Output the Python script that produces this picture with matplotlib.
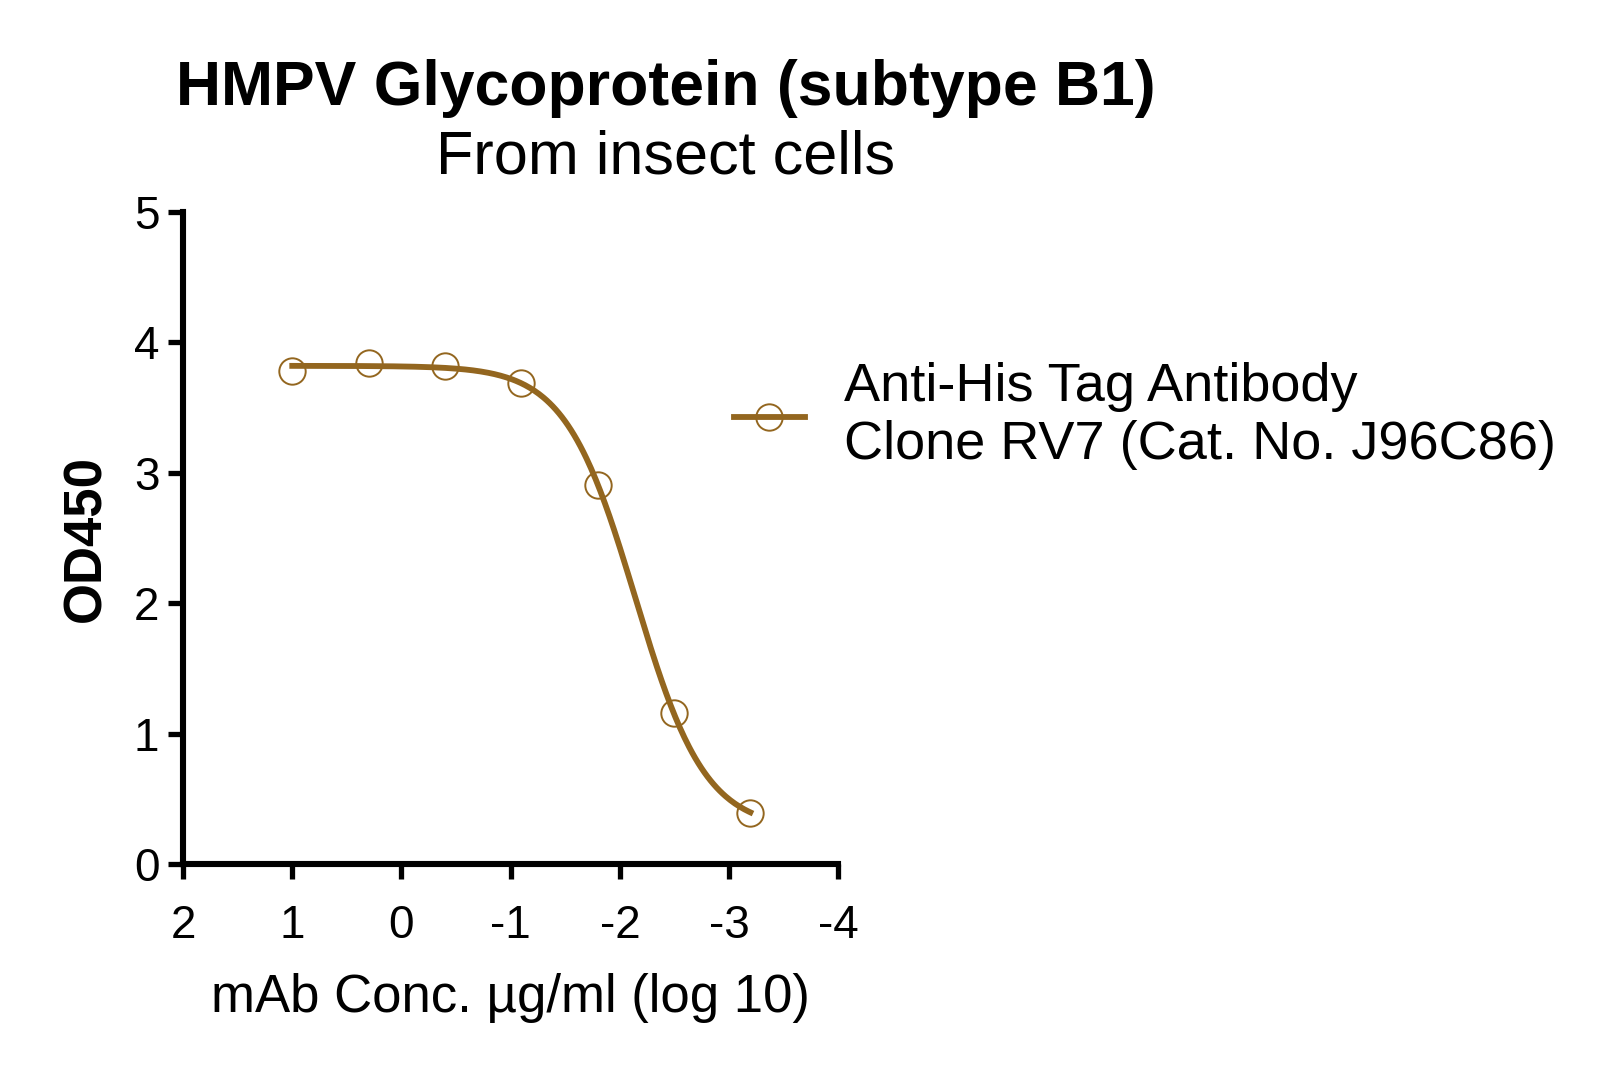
import matplotlib
matplotlib.use("Agg")
import matplotlib.pyplot as plt
import numpy as np

# datos
log_conc = [1.0, 0.301, -0.398, -1.097, -1.796, -2.495, -3.194]
od450 = [3.78, 3.84, 3.82, 3.69, 2.91, 1.16, 0.39]
serie = "Anti-His Tag Antibody\nClone RV7 (Cat. No. J96C86)"
xticks = [2, 1, 0, -1, -2, -3, -4]
yticks = [0, 1, 2, 3, 4, 5]

color = "#93661F"
plt.rcParams["font.family"] = ["Liberation Sans", "DejaVu Sans"]

x = np.array(log_conc)
y = np.array(od450)


# ajuste 4PL sencillo: busqueda en rejilla de logEC50 y pendiente,
# top/bottom por minimos cuadrados lineales
def ajuste_4pl(x, y):
    mejor = None
    for c in np.linspace(-3.5, -0.5, 301):
        for h in np.linspace(0.4, 3.0, 261):
            f = 1.0 / (1.0 + 10 ** ((c - x) * h))
            A = np.column_stack([np.ones_like(f), f])
            coef, *_ = np.linalg.lstsq(A, y, rcond=None)
            err = np.sum((A @ coef - y) ** 2)
            if mejor is None or err < mejor[0]:
                mejor = (err, c, h, coef[0], coef[1])
    return mejor[1:]


c, h, b0, b1 = ajuste_4pl(x, y)
xs = np.linspace(x.max(), x.min(), 300)
ys = b0 + b1 / (1.0 + 10 ** ((c - xs) * h))

fig = plt.figure(figsize=(16, 10.73), dpi=100)
ax = fig.add_axes([0.1144, 0.1948, 0.4096, 0.6076])

ax.plot(xs, ys, color=color, linewidth=4.2, zorder=2)
ax.plot(x, y, linestyle="none", marker="o", markersize=19, markerfacecolor="none",
        markeredgecolor=color, markeredgewidth=1.4, zorder=3)
# entrada de la leyenda
ax.plot([], [], color=color, linewidth=4.2, marker="o", markersize=19,
        markerfacecolor="none", markeredgecolor=color, markeredgewidth=1.4, label=serie)

ax.set_xlim(2, -4)
ax.set_ylim(0, 5)
ax.set_xticks(xticks)
ax.set_yticks(yticks)
ax.set_xticklabels([str(t) for t in xticks])
ax.set_yticklabels([str(t) for t in yticks])

for s in ["top", "right"]:
    ax.spines[s].set_visible(False)
for s in ["left", "bottom"]:
    ax.spines[s].set_linewidth(4.4)
    ax.spines[s].set_capstyle("projecting")
ax.tick_params(axis="both", direction="out", length=11, width=3.8, labelsize=33)
ax.tick_params(axis="x", pad=18)
ax.tick_params(axis="y", pad=6)

ax.set_xlabel("mAb Conc. \u00b5g/ml (log 10)", fontsize=38, labelpad=18)
ax.set_ylabel("OD450", fontsize=38, fontweight="bold", labelpad=16)

fig.text(0.416, 0.902, "HMPV Glycoprotein (subtype B1)", fontsize=45, fontweight="bold",
         ha="center", va="baseline")
fig.text(0.416, 0.838, "From insect cells", fontsize=44, ha="center", va="baseline")

ax.legend(loc="center left", bbox_to_anchor=(707 / 1600, 1 - 416 / 1073),
          bbox_transform=fig.transFigure, frameon=False, fontsize=39,
          handlelength=1.3, handletextpad=0.72, borderpad=0)

fig.savefig("out.png", dpi=100)
